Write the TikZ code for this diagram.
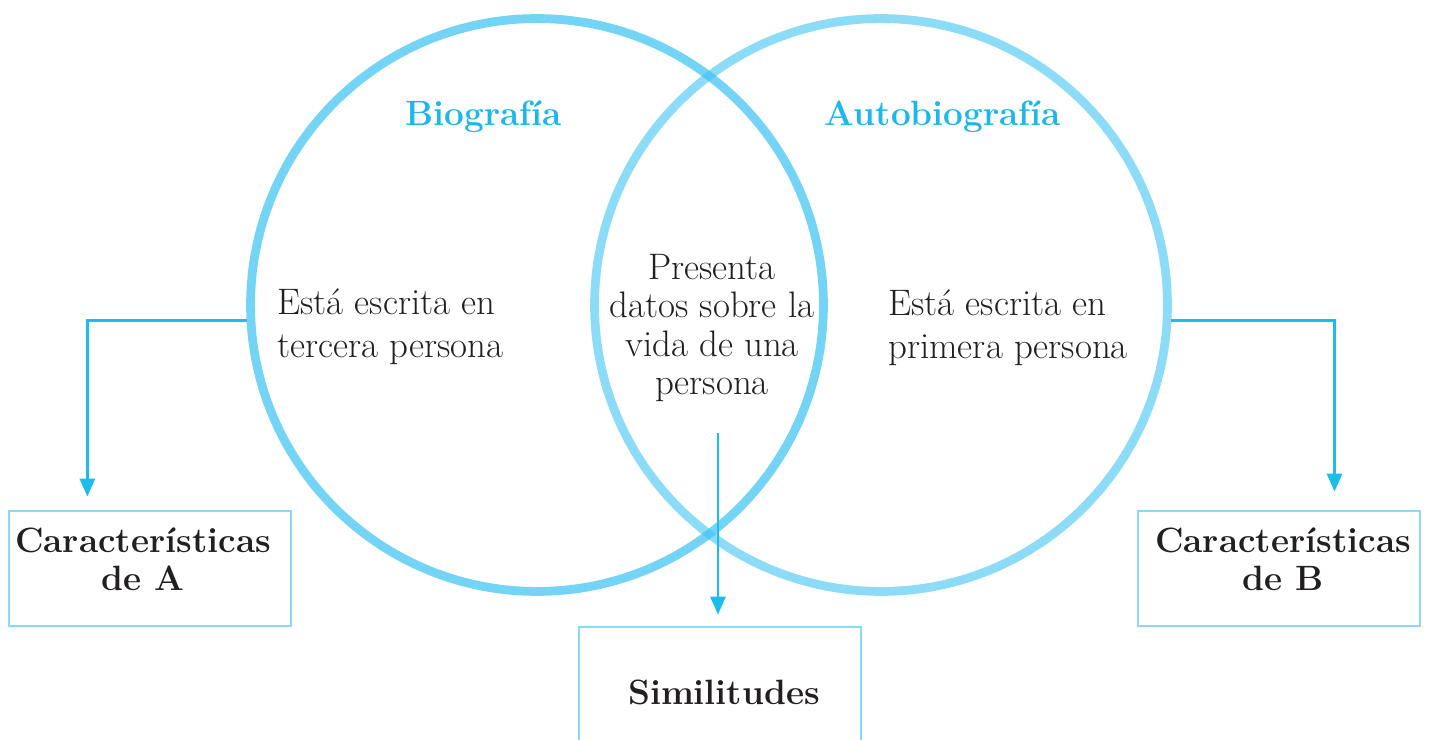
\documentclass[tikz,border=0pt]{standalone}
\usepackage{xcolor}
\usepackage{tikz}
\usetikzlibrary{positioning,arrows.meta,calc}
\definecolor{vennA}{HTML}{50C9F2}
\definecolor{vennB}{HTML}{3FC5F2}
\definecolor{vennarrow}{HTML}{1BBDEB}
\definecolor{venntitle}{HTML}{1DB8E9}
\definecolor{vennbox}{HTML}{8BDAF5}
\definecolor{venntext}{HTML}{231F20}

\begin{document}
\begin{tikzpicture}[
    x=0.02cm, y=-0.02cm,
    >={Triangle[length=0.36cm,width=0.3cm]},
    venn/.style={circle, draw, line width=5pt, minimum size=11.46cm, inner sep=0pt},
    title/.style={font=\fontsize{20}{24}\selectfont\bfseries, text=venntitle, inner sep=0pt},
    body/.style={font=\fontsize{21}{24.5}\selectfont, text=venntext, align=left, inner sep=0pt},
    boxlabel/.style={font=\fontsize{20}{21.6}\selectfont\bfseries, text=venntext, align=center, inner sep=0pt},
    infobox/.style={draw=vennbox, line width=1.6pt, minimum width=5.64cm, minimum height=2.3cm, inner sep=0pt},
    arrow/.style={->, line width=1.7pt, color=vennarrow},
]
\useasboundingbox (0,0) rectangle (1431,740);

% the two sets
\node[venn, draw=vennA, draw opacity=0.8] (bio) at (537,305) {};
\node[venn, draw=vennB, draw opacity=0.6] (auto) at (881,305) {};

\node[title] (biot) at (484,117) {Biograf\'ia};
\node[title] (autot) at (943,117) {Autobiograf\'ia};

\node[body, anchor=west] (bioc) at (277,327) {Est\'a escrita en\\tercera persona};
\node[body, anchor=west] (autoc) at (888,328) {Est\'a escrita en\\primera persona};
\node[body, align=center, font=\fontsize{21}{22}\selectfont] (common) at (712,328)
    {Presenta\\datos sobre la\\vida de una\\persona};

% result boxes
\node[infobox] (boxA) at (150,568.5) {};
\node[boxlabel] (labA) at (143,559) {Caracter\'isticas\\de A};
\node[infobox] (boxB) at (1279,568.5) {};
\node[boxlabel] (labB) at (1283,559) {Caracter\'isticas\\de B};
\node[infobox, minimum height=2.66cm] (boxS) at (720,693.5) {};
\node[boxlabel] (labS) at (724,692) {Similitudes};

\coordinate (start) at (718,433);

\draw[arrow, shorten >=0.26cm] (bio.183) -| ($(boxA.north west)!0.28!(boxA.north east)$);
\draw[arrow, shorten >=0.36cm] (auto.-3) -| ($(boxB.north west)!0.695!(boxB.north east)$);
\draw[arrow, shorten >=0.22cm] (start) -- (start |- boxS.north);
\end{tikzpicture}
\end{document}
